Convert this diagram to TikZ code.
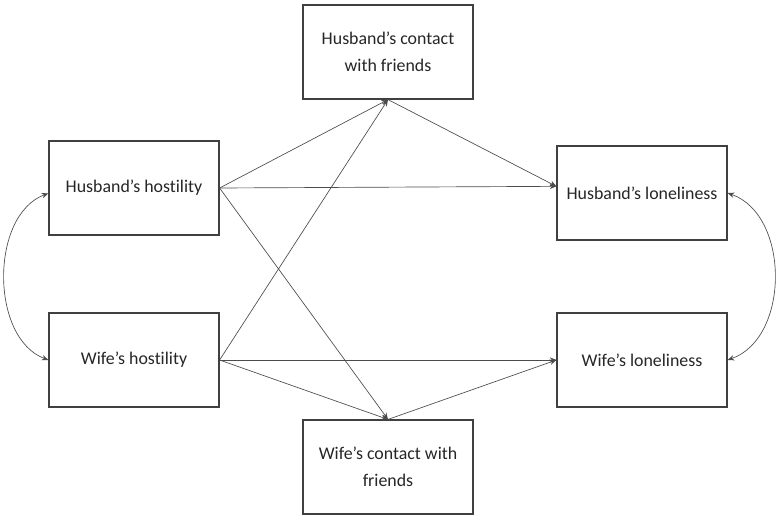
\documentclass[tikz,border=0pt]{standalone}
\usepackage{fontspec}
\setmainfont{Carlito}[Ligatures=NoCommon]
\usetikzlibrary{arrows.meta}

\begin{document}
\begin{tikzpicture}[x=0.75pt,y=-0.75pt,
  var/.style={draw=black!75,line width=0.9pt,minimum width=127.5pt,minimum height=70.5pt,
    align=center,font=\fontsize{13.4}{20.5}\selectfont,text=black!85,inner sep=0pt},
  path/.style={draw=black!70,line width=0.5pt,-{Stealth[length=5pt,width=4pt]}},
  cov/.style={draw=black!70,line width=0.5pt,{Stealth[length=5pt,width=4pt]}-{Stealth[length=5pt,width=4pt]}}]
 \useasboundingbox (0,0) rectangle (780,521);

 \node[var] (hh) at (134,188) {Husband’s hostility};
 \node[var] (wh) at (134,360) {Wife’s hostility};
 \node[var] (hc) at (388,52) {Husband’s contact\\with friends};
 \node[var] (wc) at (388,467) {Wife’s contact with\\friends};
 \node[var] (hl) at (642,193) {Husband’s loneliness};
 \node[var] (wl) at (642,360) {Wife’s loneliness};

 \draw[path] (hh.east) -- (hc.south);
 \draw[path] (hh.east) -- ([yshift=5pt]hl.west);
 \draw[path] (hh.east) -- (wc.north);
 \draw[path] (wh.east) -- (hc.south);
 \draw[path] (wh.east) -- (wl.west);
 \draw[path] (wh.east) -- (wc.north);
 \draw[path] (hc.south) -- ([yshift=5pt]hl.west);
 \draw[path] (wc.north) -- (wl.west);

 \draw[cov] ([yshift=-4pt]hh.west) .. controls (-10,215) and (-10,338) .. (wh.west);
 \draw[cov] (hl.east) .. controls (790,215) and (790,338) .. (wl.east);

\end{tikzpicture}
\end{document}
